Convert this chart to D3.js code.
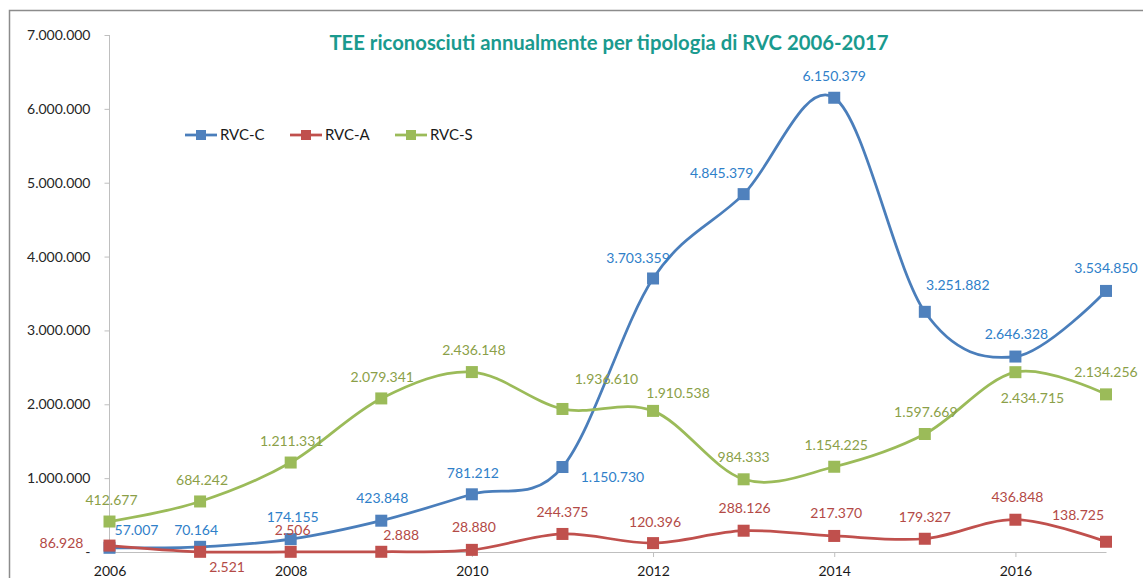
<!DOCTYPE html>
<html>
<head>
<meta charset="utf-8">
<script src="https://cdn.jsdelivr.net/npm/d3@7"></script>
<style>
  body { margin: 0; background: #fff; }
  text { font-family: Lato, "Open Sans", sans-serif; }
  .axis path, .axis line { stroke: #bfbfbf; }
  .axis text { font-size: 14px; fill: #262626; }
</style>
</head>
<body>
<div id="chart"></div>
<script>
var width = 1143,
  height = 578;

var years = [2006, 2007, 2008, 2009, 2010, 2011, 2012, 2013, 2014, 2015, 2016, 2017];
var xTickYears = [2006, 2008, 2010, 2012, 2014, 2016];
var yTicks = [0, 1000000, 2000000, 3000000, 4000000, 5000000, 6000000, 7000000];

var seriesNames = ["RVC-C", "RVC-A", "RVC-S"];
var rvcC = [57007, 70164, 174155, 423848, 781212, 1150730, 3703359, 4845379, 6150379, 3251882, 2646328, 3534850];
var rvcA = [86928, 2521, 2506, 2888, 28880, 244375, 120396, 288126, 217370, 179327, 436848, 138725];
var rvcS = [412677, 684242, 1211331, 2079341, 2436148, 1936610, 1910538, 984333, 1154225, 1597669, 2434715, 2134256];

// where each value label sits, relative to its marker (px)
var labelShiftC = [[27, -18], [-4, -17], [2, -22], [1, -23], [1, -21], [50, 10], [-15, -21], [-22, -21], [0, -22], [33, -27], [1, -23], [0, -23]];
var labelShiftA = [[-48, -3], [27, 15], [2, -22], [20, -17], [2, -23], [0, -22], [2, -21], [1, -23], [2, -23], [0, -22], [2, -23], [-28, -27]];
var labelShiftS = [[2, -22], [2, -22], [1, -22], [1, -21], [2, -22], [44, -30], [25, -18], [0, -22], [2, -22], [1, -22], [17, 26], [0, -22]];

var series = [
  {name: seriesNames[0], values: rvcC, shift: labelShiftC, line: "#4a7ebb", mark: "#4f81bd", text: "#2f80c9"},
  {name: seriesNames[1], values: rvcA, shift: labelShiftA, line: "#c0504d", mark: "#c0504d", text: "#b34a46"},
  {name: seriesNames[2], values: rvcS, shift: labelShiftS, line: "#9bbb59", mark: "#9bbb59", text: "#8b9f48"}
];

var it = d3.formatLocale({decimal: ",", thousands: ".", grouping: [3], currency: ["", " €"]});
var fmt = it.format(",d");

var x = d3.scaleLinear()
  .domain([2006, 2017])
  .range([109.5, 1106]);

var y = d3.scaleLinear()
  .domain([0, 7000000])
  .range([552, 35]);

var svg = d3.select("#chart").append("svg")
  .attr("width", width)
  .attr("height", height);

// outer frame (only top and left are in view)
svg.append("path")
  .attr("d", "M9.5," + height + "V10.5H" + width)
  .attr("fill", "none")
  .attr("stroke", "#8c8c8c")
  .attr("stroke-width", 1.5);

svg.append("text")
  .attr("x", 609)
  .attr("y", 50)
  .attr("text-anchor", "middle")
  .style("font-size", "20.3px")
  .style("font-weight", "bold")
  .style("fill", "#1a9a8e")
  .text("TEE riconosciuti annualmente per tipologia di RVC 2006-2017");

var yAxis = svg.append("g")
  .attr("class", "axis")
  .attr("transform", "translate(" + x(2006) + ",0)")
  .call(d3.axisLeft(y)
    .tickValues(yTicks)
    .tickSize(5)
    .tickPadding(14)
    .tickFormat(function(d) { return d === 0 ? "-" : fmt(d); }));
yAxis.select(".domain").attr("d", "M0," + y(0) + "V" + y(7000000));

var xAxis = svg.append("g")
  .attr("class", "axis")
  .attr("transform", "translate(0," + y(0) + ")")
  .call(d3.axisBottom(x)
    .tickValues(xTickYears)
    .tickSize(5)
    .tickSizeOuter(0)
    .tickFormat(d3.format("d")));
xAxis.selectAll(".tick line").filter(function(d) { return d === 2006; }).remove();
xAxis.selectAll(".tick text").attr("y", 24).attr("dy", 0).style("fill", "#1a1a1a");

var line = d3.line()
  .x(function(d, i) { return x(years[i]); })
  .y(function(d) { return y(d); })
  .curve(d3.curveCatmullRom.alpha(0));

var size = 12;

series.forEach(function(s) {
  svg.append("path")
    .datum(s.values)
    .attr("fill", "none")
    .attr("stroke", s.line)
    .attr("stroke-width", 2.75)
    .attr("d", line);

  svg.append("g").selectAll("rect")
    .data(s.values)
    .enter().append("rect")
    .attr("x", function(d, i) { return x(years[i]) - size / 2; })
    .attr("y", function(d) { return y(d) - size / 2; })
    .attr("width", size)
    .attr("height", size)
    .attr("fill", s.mark);
});

series.forEach(function(s) {
  svg.append("g").selectAll("text")
    .data(s.values)
    .enter().append("text")
    .attr("x", function(d, i) { return x(years[i]) + s.shift[i][0]; })
    .attr("y", function(d, i) { return y(d) + s.shift[i][1]; })
    .attr("dy", "0.36em")
    .attr("text-anchor", "middle")
    .style("font-size", "14px")
    .style("fill", s.text)
    .text(function(d) { return fmt(d); });
});

// legend
var legend = svg.append("g").selectAll("g")
  .data(series)
  .enter().append("g")
  .attr("transform", function(d, i) { return "translate(" + (185 + i * 105) + ",135)"; });

legend.append("line")
  .attr("x1", 0)
  .attr("x2", 32)
  .attr("stroke", function(d) { return d.line; })
  .attr("stroke-width", 2.75);

legend.append("rect")
  .attr("x", 11)
  .attr("y", -5)
  .attr("width", 10)
  .attr("height", 10)
  .attr("fill", function(d) { return d.mark; });

legend.append("text")
  .attr("x", 35)
  .attr("dy", "0.36em")
  .style("font-size", "15px")
  .style("fill", "#1a1a1a")
  .text(function(d) { return d.name; });
</script>
</body>
</html>
